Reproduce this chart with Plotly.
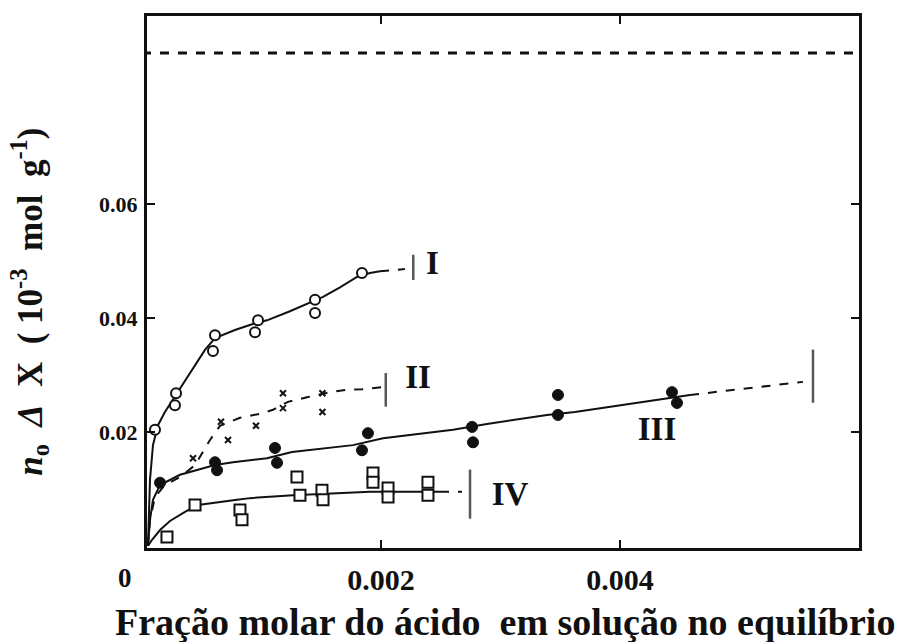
import plotly.graph_objects as go

# ---- measured isotherm points (x: mole fraction of acid, y: n0*dX in 1e-3 mol/g) ----
i_x = [0.000109, 0.000285, 0.000276, 0.000611, 0.000594, 0.000971, 0.000946, 0.001448, 0.001448, 0.001841]
i_y = [0.0204, 0.0268, 0.0247, 0.0370, 0.0342, 0.0396, 0.0375, 0.0432, 0.0409, 0.0479]

ii_x = [0.000427, 0.000661, 0.00072, 0.000954, 0.00118, 0.00118, 0.00151, 0.00151]
ii_y = [0.0154, 0.0218, 0.0186, 0.0211, 0.0268, 0.0242, 0.0268, 0.0235]

iii_x = [0.000151, 0.000611, 0.000628, 0.001113, 0.00113, 0.001891, 0.001841,
         0.002762, 0.00277, 0.003481, 0.003481, 0.004435, 0.004477]
iii_y = [0.0111, 0.0147, 0.0133, 0.0172, 0.0146, 0.0198, 0.0168,
         0.0209, 0.0182, 0.0265, 0.0230, 0.0270, 0.0251]

iv_x = [0.000209, 0.000444, 0.00082, 0.000837, 0.001297, 0.001322, 0.001506, 0.001515,
        0.001933, 0.001933, 0.002059, 0.002059, 0.002393, 0.002393]
iv_y = [0.0016, 0.0072, 0.0063, 0.0046, 0.0121, 0.0089, 0.0098, 0.0081,
        0.0128, 0.0112, 0.0102, 0.0086, 0.0112, 0.0089]

# ---- fitted curves ----
ci_x = [0.00005, 0.000067, 0.000092, 0.000134, 0.000192, 0.000285, 0.000402, 0.000527, 0.000611,
        0.000778, 0.000946, 0.001046, 0.001238, 0.001406, 0.001515, 0.001657, 0.001799, 0.001908, 0.001992]
ci_y = [0.0, 0.0116, 0.0177, 0.0212, 0.0235, 0.0265, 0.0305, 0.0344, 0.0365,
        0.0379, 0.0391, 0.0396, 0.0412, 0.0428, 0.0437, 0.0454, 0.0472, 0.0479, 0.0482]
ci_ext_x = [0.001992, 0.00220]
ci_ext_y = [0.0482, 0.0486]

cii_x = [0.00005, 0.000067, 0.000109, 0.000192, 0.000318, 0.000444, 0.000569, 0.000653, 0.00082,
         0.000987, 0.001096, 0.001222, 0.001381, 0.001573, 0.001715, 0.001841, 0.002017]
cii_y = [0.0, 0.0046, 0.0086, 0.0107, 0.0121, 0.0142, 0.0186, 0.0211, 0.0225,
         0.0232, 0.0239, 0.0253, 0.0261, 0.0270, 0.0274, 0.0275, 0.0279]

ciii_x = [0.00005, 0.000067, 0.000092, 0.000151, 0.000318, 0.000611, 0.000762, 0.001046, 0.001255,
          0.001766, 0.002017, 0.002603, 0.002887, 0.003389, 0.003623, 0.004, 0.00431, 0.004586]
ciii_y = [0.0, 0.0046, 0.0081, 0.0107, 0.0125, 0.0142, 0.0147, 0.0154, 0.0165,
          0.0177, 0.0189, 0.0204, 0.0214, 0.0230, 0.0235, 0.0247, 0.0256, 0.0265]
ciii_ext_x = [0.004586, 0.005531]
ciii_ext_y = [0.0265, 0.0288]

civ_x = [0.00005, 0.000084, 0.000151, 0.000234, 0.00036, 0.000469, 0.000795, 0.000904,
         0.001264, 0.001657, 0.001908, 0.002134, 0.002494]
civ_y = [0.0, 0.0011, 0.0028, 0.0044, 0.006, 0.0072, 0.0081, 0.0084,
         0.0089, 0.0093, 0.0095, 0.0095, 0.0095]
civ_ext_x = [0.002494, 0.002678]
civ_ext_y = [0.0095, 0.0095]

# saturation level and end-of-range bars
sat_x = [0.0, 0.006]
sat_y = [0.0865, 0.0865]
cap_x = [0.00227, 0.00204, 0.005615, 0.002745]
cap_y = [0.0489, 0.0274, 0.0298, 0.0091]
cap_size = [18, 24, 38, 35]

curve_names = ["<b>I</b>", "<b>II</b>", "<b>III</b>", "<b>IV</b>"]
label_x = [0.00243, 0.00231, 0.00431, 0.00308]
label_y = [0.0491, 0.0291, 0.0200, 0.0086]

x_ticks = [0.002, 0.004]
x_tick_text = ["<b>0.002</b>", "<b>0.004</b>"]
y_ticks = [0.02, 0.04, 0.06]
y_tick_text = ["<b>0.02</b>", "<b>0.04</b>", "<b>0.06</b>"]

BLK = "#111111"
FONT = "Liberation Serif"

fig = go.Figure()

def line(x, y, dash="solid", width=2):
    fig.add_trace(go.Scatter(x=x, y=y, mode="lines", line=dict(color=BLK, width=width, dash=dash),
                             hoverinfo="skip", showlegend=False))

def pts(x, y, symbol, size, fill, lw=2):
    fig.add_trace(go.Scatter(x=x, y=y, mode="markers",
                             marker=dict(symbol=symbol, size=size, color=fill,
                                         line=dict(color=BLK, width=lw)),
                             showlegend=False))

line(sat_x, sat_y, dash="dash", width=3)

line(ci_x, ci_y)
line(ci_ext_x, ci_ext_y, dash="dash")
line(cii_x, cii_y, dash="dash")
line(ciii_x, ciii_y)
line(ciii_ext_x, ciii_ext_y, dash="dash")
line(civ_x, civ_y)
line(civ_ext_x, civ_ext_y, dash="dash")

pts(i_x, i_y, "circle", 10, "white")
pts(ii_x, ii_y, "x-thin", 6, BLK, lw=2)
pts(iii_x, iii_y, "circle", 11, BLK, lw=1)
pts(iv_x, iv_y, "square", 11, "white")

fig.add_trace(go.Scatter(x=cap_x, y=cap_y, mode="markers",
                         marker=dict(symbol="line-ns", size=cap_size, line=dict(color=BLK, width=2.5)),
                         showlegend=False))

fig.add_trace(go.Scatter(x=label_x, y=label_y, mode="text", text=curve_names,
                         textfont=dict(family=FONT, size=33, color=BLK),
                         textposition="middle center", showlegend=False))

axis_common = dict(showline=True, linecolor=BLK, linewidth=3, mirror="ticks",
                   ticks="inside", ticklen=8, tickwidth=2, tickcolor=BLK,
                   showgrid=False, zeroline=False)

fig.update_xaxes(range=[0.000042, 0.006], tickvals=x_ticks, ticktext=x_tick_text,
                 tickfont=dict(family=FONT, size=30, color=BLK), ticklabelstandoff=3,
                 **axis_common)
fig.update_yaxes(range=[-0.00035, 0.093], tickvals=y_ticks, ticktext=y_tick_text,
                 tickfont=dict(family=FONT, size=22, color=BLK), ticklabelstandoff=2,
                 **axis_common)

fig.add_annotation(text="<b>0</b>", xref="paper", yref="paper", x=-0.031, y=-0.056,
                   xanchor="center", yanchor="middle",
                   showarrow=False, font=dict(family=FONT, size=27, color=BLK))
fig.add_annotation(text="<b>Fração molar do ácido  em solução no equilíbrio</b>",
                   xref="paper", yref="paper", x=0.503, y=-0.139, xanchor="center", yanchor="middle",
                   showarrow=False, font=dict(family=FONT, size=38, color=BLK))
fig.add_annotation(text="<b><i>n</i><sub>o</sub>  <i>Δ</i>  X  ( 10<sup>-3</sup>  mol  g<sup>-1</sup>)</b>",
                   xref="paper", yref="paper", x=-0.165, y=0.462, xanchor="center", yanchor="middle",
                   textangle=-90,
                   showarrow=False, font=dict(family=FONT, size=35, color=BLK))

fig.update_layout(width=923, height=642, margin=dict(l=147, r=64, t=16, b=94),
                  paper_bgcolor="white", plot_bgcolor="white",
                  font=dict(family=FONT, color=BLK))

fig.write_html("out.html")
